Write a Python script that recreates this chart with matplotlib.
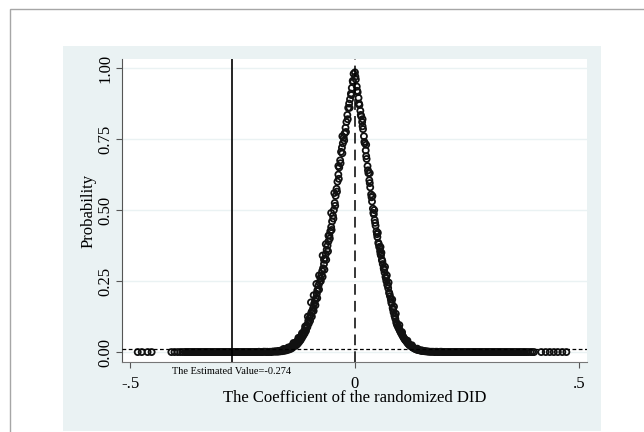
import matplotlib
matplotlib.use("Agg")
import matplotlib.pyplot as plt
from matplotlib.patches import Rectangle
import matplotlib.transforms as mtransforms

plt.rcParams['font.family'] = ['Liberation Serif', 'DejaVu Serif']

# coefficients of the placebo regressions and their probabilities
left_tail_x = [-0.483, -0.474, -0.461, -0.452, -0.408, -0.401, -0.394, -0.388, -0.383,
               -0.378, -0.373, -0.368, -0.363, -0.358, -0.353, -0.348, -0.343, -0.338,
               -0.333, -0.328, -0.323, -0.318, -0.313, -0.308, -0.303, -0.298, -0.293,
               -0.288, -0.283, -0.278, -0.273, -0.268, -0.263, -0.258, -0.253, -0.248,
               -0.243, -0.238, -0.233, -0.228, -0.223, -0.218, -0.213, -0.208, -0.203,
               -0.198, -0.194,
               -0.376, -0.371, -0.366, -0.361, -0.356, -0.351, -0.346, -0.341, -0.336,
               -0.331, -0.326, -0.321, -0.316, -0.311, -0.306, -0.301, -0.296, -0.291,
               -0.286, -0.281, -0.276, -0.271, -0.266, -0.261, -0.256, -0.251, -0.246,
               -0.241, -0.236, -0.231, -0.226, -0.221, -0.216, -0.211, -0.206, -0.201,
               -0.196]
left_tail_p = [0.0] * 40 + [0.0, 0.0, 0.001, 0.0, 0.001, 0.001, 0.001] + [0.0] * 35 + [0.001, 0.0]

left_x = [-0.002, -0.004, -0.006, -0.008, -0.010, -0.012, -0.014, -0.016, -0.018, -0.020,
          -0.022, -0.024, -0.026, -0.028, -0.030, -0.032, -0.034, -0.036, -0.038, -0.040,
          -0.042, -0.044, -0.046, -0.048, -0.050, -0.052, -0.054, -0.056, -0.058, -0.060,
          -0.062, -0.064, -0.066, -0.068, -0.070, -0.072, -0.074, -0.076, -0.078, -0.080,
          -0.082, -0.084, -0.086, -0.088, -0.090, -0.092, -0.094, -0.096, -0.098, -0.100,
          -0.103, -0.106, -0.109, -0.112, -0.115, -0.118, -0.121, -0.124, -0.127, -0.130,
          -0.134, -0.138, -0.142, -0.146, -0.150, -0.155, -0.160, -0.165, -0.170, -0.176,
          -0.182, -0.188,
          -0.052, -0.058, -0.064, -0.071, -0.079, -0.085, -0.091, -0.097, -0.104, -0.110,
          -0.036, -0.027, -0.045, -0.068, -0.083, -0.117, -0.125, -0.136, -0.148, -0.158,
          -0.003, -0.007, -0.011, -0.015, -0.019, -0.023, -0.027, -0.031, -0.035, -0.039,
          -0.043, -0.047, -0.051, -0.055, -0.059, -0.063, -0.067, -0.071, -0.075, -0.079,
          -0.083, -0.087, -0.091, -0.095, -0.099, -0.102, -0.105, -0.108, -0.111, -0.114,
          -0.117, -0.120, -0.123, -0.126, -0.129, -0.132, -0.136, -0.140, -0.144, -0.148,
          -0.152, -0.157, -0.162, -0.167, -0.172, -0.178, -0.185, -0.191]
left_p = [0.98, 0.955, 0.93, 0.91, 0.89, 0.875, 0.86, 0.835, 0.81, 0.79,
          0.77, 0.755, 0.735, 0.72, 0.705, 0.675, 0.65, 0.625, 0.60, 0.575,
          0.55, 0.525, 0.50, 0.48, 0.46, 0.44, 0.425, 0.41, 0.39, 0.375,
          0.36, 0.345, 0.33, 0.31, 0.295, 0.285, 0.27, 0.26, 0.245, 0.235,
          0.22, 0.205, 0.19, 0.18, 0.17, 0.155, 0.145, 0.14, 0.13, 0.12,
          0.11, 0.095, 0.085, 0.075, 0.066, 0.058, 0.05, 0.045, 0.04, 0.034,
          0.029, 0.024, 0.019, 0.015, 0.012, 0.009, 0.007, 0.005, 0.004, 0.003,
          0.002, 0.001,
          0.49, 0.41, 0.38, 0.34, 0.27, 0.24, 0.20, 0.175, 0.125, 0.09,
          0.655, 0.76, 0.56, 0.325, 0.215, 0.066, 0.05, 0.032, 0.016, 0.011,
          0.95, 0.905, 0.86, 0.82, 0.775, 0.745, 0.70, 0.665, 0.61, 0.565,
          0.515, 0.47, 0.43, 0.40, 0.355, 0.325, 0.29, 0.265, 0.25, 0.22,
          0.19, 0.165, 0.145, 0.125, 0.11, 0.10, 0.088, 0.075, 0.066, 0.058,
          0.05, 0.042, 0.036, 0.03, 0.025, 0.022, 0.018, 0.013, 0.01, 0.008,
          0.006, 0.004, 0.003, 0.002, 0.001, 0.001, 0.0, 0.0]

right_x = [0.001, 0.003, 0.005, 0.007, 0.009, 0.011, 0.013, 0.015, 0.017, 0.019,
           0.021, 0.023, 0.025, 0.027, 0.029, 0.031, 0.033, 0.035, 0.037, 0.039,
           0.041, 0.043, 0.045, 0.047, 0.049, 0.051, 0.053, 0.055, 0.057, 0.059,
           0.061, 0.063, 0.065, 0.067, 0.069, 0.071, 0.073, 0.075, 0.077, 0.079,
           0.081, 0.083, 0.085, 0.087, 0.089, 0.091, 0.093, 0.095, 0.098, 0.101,
           0.104, 0.107, 0.110, 0.113, 0.116, 0.119, 0.122, 0.126, 0.130, 0.134,
           0.138, 0.143, 0.148, 0.153, 0.158, 0.164, 0.170,
           0.026, 0.034, 0.044, 0.052, 0.060, 0.068, 0.076, 0.084, 0.092, 0.100,
           0.018, 0.040, 0.058, 0.072, 0.088, 0.106, 0.118, 0.128, 0.140, 0.150,
           0.002, 0.006, 0.010, 0.014, 0.018, 0.022, 0.026, 0.030, 0.034, 0.038,
           0.042, 0.046, 0.050, 0.054, 0.058, 0.062, 0.066, 0.070, 0.074, 0.078,
           0.082, 0.086, 0.090, 0.094, 0.097, 0.100, 0.103, 0.106, 0.109, 0.112,
           0.115, 0.118, 0.121, 0.124, 0.128, 0.132, 0.136, 0.140, 0.145, 0.150,
           0.156, 0.161, 0.167, 0.173, 0.179]
right_p = [0.985, 0.96, 0.935, 0.915, 0.895, 0.87, 0.85, 0.83, 0.81, 0.785,
           0.76, 0.735, 0.71, 0.68, 0.655, 0.63, 0.605, 0.58, 0.555, 0.53,
           0.505, 0.485, 0.465, 0.445, 0.425, 0.405, 0.385, 0.37, 0.355, 0.34,
           0.325, 0.31, 0.295, 0.28, 0.265, 0.25, 0.237, 0.225, 0.21, 0.197,
           0.185, 0.17, 0.155, 0.14, 0.128, 0.117, 0.105, 0.095, 0.085, 0.075,
           0.066, 0.057, 0.049, 0.042, 0.036, 0.03, 0.025, 0.02, 0.016, 0.012,
           0.009, 0.007, 0.005, 0.004, 0.003, 0.002, 0.001,
           0.73, 0.63, 0.50, 0.42, 0.35, 0.30, 0.245, 0.185, 0.135, 0.095,
           0.82, 0.55, 0.37, 0.27, 0.16, 0.07, 0.04, 0.024, 0.012, 0.006,
           0.97, 0.92, 0.875, 0.835, 0.795, 0.74, 0.69, 0.64, 0.595, 0.545,
           0.49, 0.455, 0.415, 0.38, 0.345, 0.32, 0.29, 0.26, 0.235, 0.205,
           0.175, 0.15, 0.125, 0.10, 0.09, 0.08, 0.07, 0.062, 0.053, 0.045,
           0.04, 0.033, 0.028, 0.023, 0.018, 0.014, 0.011, 0.008, 0.006, 0.004,
           0.003, 0.002, 0.001, 0.001, 0.0]

right_tail_x = [0.176, 0.181, 0.186, 0.191, 0.196, 0.201, 0.206, 0.211, 0.216, 0.221,
                0.226, 0.231, 0.236, 0.241, 0.246, 0.251, 0.256, 0.261, 0.266, 0.271,
                0.276, 0.281, 0.286, 0.291, 0.296, 0.301, 0.306, 0.311, 0.316, 0.321,
                0.326, 0.332, 0.338, 0.344, 0.350, 0.356, 0.362, 0.369, 0.376, 0.383,
                0.392, 0.400, 0.416, 0.426, 0.435, 0.444, 0.453, 0.463, 0.472,
                0.184, 0.189, 0.194, 0.199, 0.204, 0.209, 0.214, 0.219, 0.224, 0.229,
                0.234, 0.239, 0.244, 0.249, 0.254, 0.259, 0.264, 0.269, 0.274, 0.279,
                0.284, 0.289, 0.294, 0.299, 0.304, 0.309, 0.314, 0.319, 0.324, 0.329,
                0.335, 0.341, 0.347, 0.353, 0.359, 0.366, 0.372, 0.379, 0.387, 0.396]
right_tail_p = [0.001, 0.001, 0.0, 0.001, 0.0] + [0.0] * 44 + [0.001, 0.0, 0.001] + [0.0] * 37

estimate = -0.274
threshold = 0.01

x_all = left_tail_x + left_x + right_x + right_tail_x
p_all = left_tail_p + left_p + right_p + right_tail_p

W, H = 644, 432
fig = plt.figure(figsize=(W / 100, H / 100), dpi=100)
fig.patch.set_facecolor('white')
fig.patches.append(Rectangle((63 / W, 1 - 431 / H), (601 - 63) / W, (431 - 46) / H,
                             transform=fig.transFigure, facecolor='#eaf2f3',
                             edgecolor='none', zorder=-2))
fig.patches.append(Rectangle((10 / W, -0.1), 1.2, 1.1 - 9 / H,
                             transform=fig.transFigure, facecolor='none',
                             edgecolor='#a6a6a6', lw=1, zorder=-1))

ax = fig.add_axes([122 / W, 1 - 362 / H, (587 - 122) / W, (362 - 59) / H])
ax.set_zorder(1)
ax.set_facecolor('white')
ax.set_xlim(-0.518, 0.518)
ax.set_ylim(-0.035, 1.032)

for s in ['top', 'right']:
    ax.spines[s].set_visible(False)
ax.spines['left'].set_color('#555555')
ax.spines['bottom'].set_color('#777777')

ax.set_yticks([0, 0.25, 0.5, 0.75, 1.0])
ax.set_yticklabels(['0.00', '0.25', '0.50', '0.75', '1.00'], rotation=90, va='center')
ax.set_xticks([-0.5, 0, 0.5])
ax.set_xticklabels(['-.5', '0', '.5'])
ax.tick_params(axis='both', labelsize=12, length=4, color='#555555', direction='out')
ax.tick_params(axis='x', pad=6)
ax.tick_params(axis='y', pad=2)
ax.grid(axis='y', color='#eaf2f3', lw=1)
ax.set_axisbelow(True)

ax.scatter(x_all, p_all, s=19, facecolors='none', edgecolors='#111111', linewidths=1.3, zorder=3)

ax.axvline(estimate, color='black', lw=1.2, zorder=4)
ax.axvline(0, color='black', lw=1.1, dashes=(7, 4), zorder=4)
ax.axhline(threshold, color='black', lw=0.9, dashes=(3, 2), zorder=4)

trans = mtransforms.blended_transform_factory(ax.transData, ax.transAxes)
ax.text(estimate, -0.033, 'The Estimated Value=-0.274', transform=trans,
        ha='center', va='center', fontsize=7.5)

ax.set_xlabel('The Coefficient of the randomized DID', fontsize=12, labelpad=-1)
ax.set_ylabel('Probability', fontsize=12, labelpad=1)

fig.savefig('out.png', dpi=100)
